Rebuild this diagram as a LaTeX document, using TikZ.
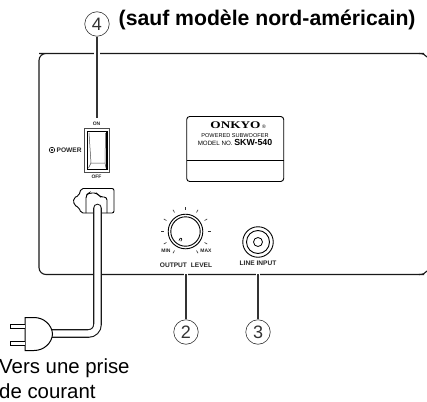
\documentclass[tikz,border=0pt]{standalone}
\usepackage{fontspec}
\usetikzlibrary{calc}
\setmainfont{Liberation Sans}
\newfontfamily\onk[FakeStretch=1.3]{Liberation Serif}
\tikzset{
  panelline/.style={line width=1.1pt,color=black!90},
  num/.style={circle,draw=black!80,line width=0.6pt,minimum size=24.5pt,inner sep=0pt,font=\fontsize{18}{18}\selectfont,text=black!80},
  leader/.style={line width=1.2pt,color=black!80},
  gapline/.style={line width=6pt,color=white},
  smalltxt/.style={inner sep=0pt,font=\fontsize{6.6}{7}\bfseries\selectfont,text=black!85},
  tinytxt/.style={inner sep=0pt,font=\fontsize{5}{5}\bfseries\selectfont,text=black!85},
  captxt/.style={inner sep=0pt,anchor=base west,font=\fontsize{20.4}{22}\selectfont},
  dialtick/.style={line width=0.6pt,color=black!80},
}
\begin{document}
\begin{tikzpicture}[x=1pt,y=-1pt]
\useasboundingbox[fill=white] (0,0) rectangle (427,401);
% panel
\draw[panelline,rounded corners=7pt] (424,53.5) -- (46,53.5) -- (39,53.5) -- (39,274.5) -- (424,274.5);
\draw[panelline] (419,53.5) .. controls (423,53.5) and (425,54.5) .. (427,57);
\draw[panelline] (419,274.5) .. controls (423,274.5) and (425,273.5) .. (427,271);
% title
\node[inner sep=0pt,anchor=base west,font=\fontsize{21.2}{22}\bfseries\selectfont] (title) at (118.5,25.5) {(sauf modèle nord-américain)};
% number 4 and leader
\node[num] (c4) at (97,24) {4};
\coordinate (c4end) at (97,118);
\draw[gapline] (96.5,50) -- (96.5,57);
\draw[leader] (c4) -- (c4end);
% switch
\node[tinytxt] (on) at (96.5,124) {ON};
\node[tinytxt] (off) at (96.5,177) {OFF};
\node[smalltxt,anchor=west] (pow) at (56.5,150) {POWER};
\node[circle,draw,line width=0.6pt,minimum size=5.5pt,inner sep=0pt] (powo) at (52,150) {};
\fill (powo) circle (1.1pt);
\draw[line width=0.6pt,black!70] (84.5,128.5) rectangle (109.5,172);
\draw[line width=1.4pt] (87.5,131.5) rectangle (107,169.5);
\draw[line width=0.5pt,black!70] (89,133) -- (91,163) -- (105,163) -- (105.5,133);
\draw[line width=0.5pt,black!70] (91,163) -- (88.5,168);
\draw[line width=0.5pt,black!70] (105,163) -- (106,168);
% inlet
\draw[line width=0.9pt,rounded corners=2pt] (81,188.5) -- (114,188.5) -- (114,213) -- (81,213) -- (79,207.5) -- (74,205) -- (73.5,198) -- (79,195.5) -- cycle;
\draw[line width=0.9pt,rounded corners=3pt] (86,213) -- (86,195) -- (89,193) -- (97,193) -- (100,197) -- (107,197) -- (107,213);
% cord
\draw[line width=9pt,color=white] (97.5,262) -- (97.5,285);
\draw[line width=8.6pt,line cap=round,black!90,rounded corners=9pt] (97.5,208) -- (97.5,333.5) -- (50,333.5);
\draw[line width=6.4pt,line cap=round,white,rounded corners=9pt] (97.5,208) -- (97.5,333.5) -- (49,333.5);
% plug
\draw[line width=1pt,fill=white] (25,317.5) -- (34,317.5) .. controls (44,317.5) and (52,325) .. (52.5,334) .. controls (52,343) and (44,350.5) .. (34,350.5) -- (25,350.5) -- cycle;
\draw[line width=1pt,fill=white] (25,324) -- (10.5,324) -- (10.5,328.5) -- (25,328.5);
\draw[line width=1pt,fill=white] (25,341) -- (10.5,341) -- (10.5,345.5) -- (25,345.5);
\node[captxt] (v1) at (-1,373) {Vers une prise};
\node[captxt] (v2) at (-1,398) {de courant};
% name plate
\draw[line width=0.9pt,rounded corners=3pt] (186.7,116.5) rectangle (283.7,181.5);
\draw[line width=0.9pt] (186.7,160.5) -- (283.7,160.5);
\node[inner sep=0pt,anchor=base,font=\onk\fontsize{10.2}{10}\bfseries\selectfont] (brand) at (235.5,128) {ONKYO};
\node[inner sep=0pt,anchor=base,font=\fontsize{5}{5}\selectfont] (reg) at (264,128) {\textregistered};
\node[inner sep=0pt,anchor=base,font=\fontsize{5.6}{6}\selectfont] (pw) at (235,137.3) {POWERED SUBWOOFER};
\node[inner sep=0pt,anchor=base,font=\fontsize{6.2}{6}\selectfont] (model) at (235,145.7) {MODEL NO. {\fontsize{8.8}{8}\bfseries\selectfont SKW-540}};
% knob
\coordinate (kn) at (185.5,231.5);
\draw[line width=0.9pt] (kn) circle (17.3pt);
\draw[line width=0.9pt] (kn) circle (14.7pt);
\draw[line width=0.7pt,rounded corners=0.5pt] (179,240.5) -- (180.3,238) -- (182,238.8) -- (180.8,241.2);
\foreach \a in {-150,-120,...,150}
  \draw[dialtick] ($(kn)+(-90-\a:22)$) -- ($(kn)+(-90-\a:25)$);
\node[tinytxt] (mn) at (166,250.7) {MIN};
\node[tinytxt] (mx) at (206,250.7) {MAX};
\node[smalltxt] (ol) at (186,265) {OUTPUT\hspace{2pt} LEVEL};
\node[num] (c2) at (186,332) {2};
\coordinate (c2end) at (186,274);
\draw[line width=4.5pt,white] (186,272) -- (186,277);
\draw[leader] (c2) -- (c2end);
% jack
\node[circle,draw,line width=0.9pt,minimum size=30.5pt,inner sep=0pt] (jack) at (258,242) {};
\draw[line width=0.9pt] (jack) circle (11.5pt);
\draw[line width=0.8pt] (jack) circle (4.5pt);
\node[smalltxt] (li) at (258,263.5) {LINE INPUT};
\node[num] (c3) at (258,332) {3};
\coordinate (c3end) at (258,274);
\draw[line width=4.5pt,white] (258,272) -- (258,277);
\draw[leader] (c3) -- (c3end);
\end{tikzpicture}
\end{document}
